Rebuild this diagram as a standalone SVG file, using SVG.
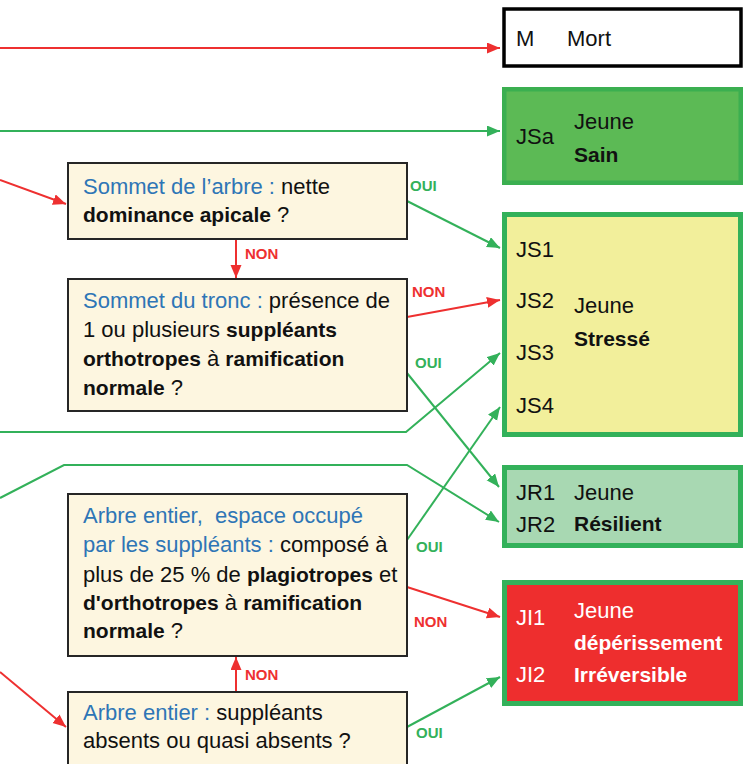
<svg xmlns="http://www.w3.org/2000/svg" width="744" height="764" viewBox="0 0 744 764">
<style>
text{font-family:"Liberation Sans",Arial,sans-serif;font-size:22px;fill:#111}
.b{font-weight:bold;font-size:21px}
.bl{fill:#2E75B6}
.w{fill:#fff}
.lbl{font-weight:bold;font-size:15px}
.lg{fill:#33B15A}
.lr{fill:#EE3030}
.q{fill:#FDF6E0;stroke:#262626;stroke-width:2}
.cr{fill:none;stroke:#EE3030;stroke-width:2;marker-end:url(#ar)}
.cg{fill:none;stroke:#33B15A;stroke-width:2;marker-end:url(#ag)}
</style>
<defs>
<marker id="ar" markerUnits="userSpaceOnUse" markerWidth="14" markerHeight="12" refX="13" refY="5.5" orient="auto"><path d="M0,0 L13,5.5 L0,11 z" fill="#EE3030"/></marker>
<marker id="ag" markerUnits="userSpaceOnUse" markerWidth="14" markerHeight="12" refX="13" refY="5.5" orient="auto"><path d="M0,0 L13,5.5 L0,11 z" fill="#33B15A"/></marker>
</defs>
<rect width="744" height="764" fill="#fff"/>
<g id="connectors">
<path class="cr" d="M0,48 L500,48"/>
<path class="cg" d="M0,131 L500,131"/>
<path class="cr" d="M0,180 L66,204"/>
<path class="cr" d="M236,240 L236,278"/>
<path class="cg" d="M407,201 L500,248"/>
<path class="cr" d="M407,317 L500,300"/>
<path class="cg" d="M407,373 L499,487"/>
<path class="cg" d="M0,432 L406,432 L500,353"/>
<path class="cg" d="M0,498 L64,465 L407,465 L499,522"/>
<path class="cg" d="M407,540 L500,407"/>
<path class="cr" d="M407,587 L500,617"/>
<path class="cr" d="M236,691 L236,657"/>
<path class="cr" d="M0,672 L66,727"/>
<path class="cg" d="M407,727 L500,677"/>
<text class="lbl lg" x="410" y="191">OUI</text>
<text class="lbl lr" x="245" y="259">NON</text>
<text class="lbl lr" x="412" y="297">NON</text>
<text class="lbl lg" x="415" y="368">OUI</text>
<text class="lbl lg" x="416" y="552">OUI</text>
<text class="lbl lr" x="414" y="627">NON</text>
<text class="lbl lr" x="245" y="680">NON</text>
<text class="lbl lg" x="416" y="738">OUI</text>
</g>
<g id="node-mort">
<rect x="504" y="9" width="237" height="57" fill="#fff" stroke="#000" stroke-width="3.5"/>
<text x="516" y="46">M</text>
<text x="567" y="46">Mort</text>
</g>
<g id="node-jsa">
<rect x="504.25" y="89.25" width="236.5" height="93.5" fill="#5CBA55" stroke="#3BAF50" stroke-width="4.5"/>
<text x="516" y="144">JSa</text>
<text x="574" y="129">Jeune</text>
<text class="b" x="574" y="162">Sain</text>
</g>
<g id="node-js">
<rect x="504.5" y="214.5" width="236" height="220" fill="#F2EF9B" stroke="#33B15A" stroke-width="5"/>
<text x="516" y="257">JS1</text>
<text x="516" y="308">JS2</text>
<text x="516" y="360">JS3</text>
<text x="516" y="413">JS4</text>
<text x="574" y="313">Jeune</text>
<text class="b" x="574" y="346">Stressé</text>
</g>
<g id="node-jr">
<rect x="504.5" y="467.5" width="236" height="78" fill="#A8D8B2" stroke="#33B15A" stroke-width="5"/>
<text x="516" y="500">JR1</text>
<text x="574" y="500">Jeune</text>
<text x="516" y="532">JR2</text>
<text class="b" x="574" y="531">Résilient</text>
</g>
<g id="node-ji">
<rect x="504.5" y="582.5" width="236" height="121" fill="#EE2E2E" stroke="#33B15A" stroke-width="5"/>
<text class="w" x="516" y="625">JI1</text>
<text class="w" x="574" y="618">Jeune</text>
<text class="b w" x="574" y="650">dépérissement</text>
<text class="w" x="516" y="682">JI2</text>
<text class="b w" x="574" y="682">Irréversible</text>
</g>
<g id="node-q1">
<rect class="q" x="68" y="163" width="339" height="76"/>
<text x="83" y="194" xml:space="preserve"><tspan class="bl">Sommet de l’arbre : </tspan>nette</text>
<text x="83" y="222" xml:space="preserve"><tspan class="b">dominance apicale</tspan> ?</text>
</g>
<g id="node-q2">
<rect class="q" x="68" y="279" width="339" height="132"/>
<text x="83" y="308" xml:space="preserve"><tspan class="bl">Sommet du tronc : </tspan>présence de</text>
<text x="83" y="337" xml:space="preserve">1 ou plusieurs <tspan class="b">suppléants</tspan></text>
<text x="83" y="366" xml:space="preserve"><tspan class="b">orthotropes</tspan> à <tspan class="b">ramification</tspan></text>
<text x="83" y="395" xml:space="preserve"><tspan class="b">normale</tspan> ?</text>
</g>
<g id="node-q3">
<rect class="q" x="68" y="494" width="339" height="162"/>
<text class="bl" x="83" y="523" xml:space="preserve">Arbre entier,  espace occupé</text>
<text x="83" y="552" xml:space="preserve"><tspan class="bl">par les suppléants : </tspan>composé à</text>
<text x="83" y="582" xml:space="preserve">plus de 25 % de <tspan class="b">plagiotropes</tspan> et</text>
<text x="83" y="610" xml:space="preserve"><tspan class="b">d'orthotropes</tspan> à <tspan class="b">ramification</tspan></text>
<text x="83" y="638" xml:space="preserve"><tspan class="b">normale</tspan> ?</text>
</g>
<g id="node-q4">
<rect class="q" x="68" y="692" width="339" height="82"/>
<text x="83" y="720" xml:space="preserve"><tspan class="bl">Arbre entier : </tspan>suppléants</text>
<text x="83" y="748">absents ou quasi absents ?</text>
</g>
</svg>
